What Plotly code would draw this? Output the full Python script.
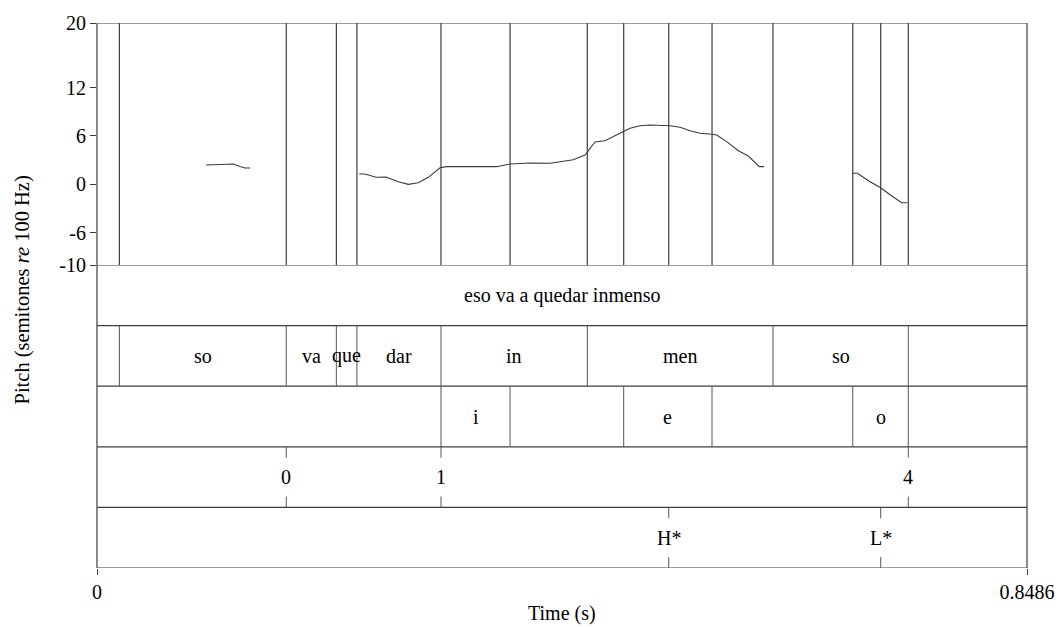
import plotly.graph_objects as go

# ---------------- data ----------------
T_END = 0.8486

# pitch contour (semitones re 100 Hz); None separates voiced stretches
pitch_time = [0.0995, 0.1244, 0.1305, 0.1350, 0.1396, None,
              0.2393, 0.2445, 0.2546, 0.2637, 0.2749, 0.2841, 0.2932, 0.3023, 0.3130,
              0.3191, 0.3647, 0.3769, 0.3951, 0.4134, 0.4346, 0.4453, 0.4544, 0.4635,
              0.4772, 0.4864, 0.4955, 0.5046, 0.5229, 0.5320, 0.5411, 0.5502, 0.5612,
              0.5655, 0.5746, 0.5852, 0.5943, 0.5989, 0.6043, 0.6086, None,
              0.6896, 0.6938, 0.7054, 0.7151, 0.7252, 0.7343, 0.7394]
pitch_st = [2.40, 2.52, 2.20, 2.03, 2.03, None,
            1.28, 1.28, 0.87, 0.91, 0.33, 0.00, 0.20, 0.87, 2.06,
            2.19, 2.19, 2.52, 2.65, 2.61, 3.05, 3.64, 5.25, 5.41,
            6.33, 6.95, 7.27, 7.36, 7.27, 7.07, 6.65, 6.33, 6.20,
            6.12, 5.29, 4.17, 3.51, 2.93, 2.19, 2.19, None,
            1.37, 1.37, 0.33, -0.42, -1.45, -2.28, -2.28]

y_ticks = [-10, -6, 0, 6, 12, 20]
y_tick_text = ["-10", "-6", "0", "6", "12", "20"]
x_ticks = [0, T_END]
x_tick_text = ["0", "0.8486"]

# tier 1: utterance
utt_bounds = []
utt_labels = ["eso va a quedar inmenso"]
# tier 2: syllables
syl_bounds = [0.0204, 0.1727, 0.2184, 0.2372, 0.3139, 0.4474, 0.6168, 0.7403]
syl_labels = ["", "so", "va", "que", "dar", "in", "men", "so", ""]
# tier 3: vowels
vow_bounds = [0.3139, 0.3769, 0.4806, 0.5612, 0.6896, 0.7403]
vow_labels = ["", "i", "", "e", "", "o", ""]
# tier 4: break indices (points)
brk_times = [0.1727, 0.3139, 0.7403]
brk_labels = ["0", "1", "4"]
# tier 5: tones (points)
tone_times = [0.5217, 0.7151]
tone_labels = ["H*", "L*"]

# ---------------- figure ----------------
FONT = "Liberation Serif"
FS = 20
LINE = "#3c3c3c"
TIER_LINE = "#555555"

fig = go.Figure()
fig.add_trace(go.Scatter(x=pitch_time, y=pitch_st, mode="lines",
                         line=dict(color="#3a3a3a", width=1.1),
                         connectgaps=False, hoverinfo="skip", showlegend=False,
                         xaxis="x", yaxis="y"))
# dummy trace for tier axis
fig.add_trace(go.Scatter(x=[0], y=[0], mode="markers", marker=dict(opacity=0),
                         xaxis="x", yaxis="y2", showlegend=False, hoverinfo="skip"))

shapes = []
annotations = []

# vertical lines in pitch panel: union of all boundaries and points
all_marks = sorted(set(syl_bounds + vow_bounds + brk_times + tone_times + utt_bounds))
for t in all_marks:
    shapes.append(dict(type="line", xref="x", yref="y", x0=t, x1=t, y0=-10, y1=20,
                       line=dict(color=LINE, width=1.2)))

# horizontal frame lines
shapes.append(dict(type="line", xref="paper", yref="y", x0=0, x1=1, y0=20, y1=20,
                   line=dict(color=LINE, width=1.2)))
for k in range(6):
    shapes.append(dict(type="line", xref="paper", yref="y2", x0=0, x1=1, y0=k, y1=k,
                       line=dict(color=LINE, width=1.2)))
# left / right frame
for xp in (0, 1):
    shapes.append(dict(type="line", xref="paper", yref="paper", x0=xp, x1=xp, y0=0, y1=1,
                       line=dict(color=LINE, width=1.2)))

def interval_tier(bounds, labels, top):
    edges = [0.0] + list(bounds) + [T_END]
    for t in bounds:
        shapes.append(dict(type="line", xref="x", yref="y2", x0=t, x1=t,
                           y0=top - 1, y1=top, line=dict(color=TIER_LINE, width=1)))
    for i, lab in enumerate(labels):
        if lab:
            annotations.append(dict(x=(edges[i] + edges[i + 1]) / 2, y=top - 0.5,
                                    xref="x", yref="y2", text=lab, showarrow=False,
                                    font=dict(family=FONT, size=FS, color="black")))

def point_tier(times, labels, top):
    for t, lab in zip(times, labels):
        shapes.append(dict(type="line", xref="x", yref="y2", x0=t, x1=t,
                           y0=top - 0.18, y1=top, line=dict(color=TIER_LINE, width=1)))
        shapes.append(dict(type="line", xref="x", yref="y2", x0=t, x1=t,
                           y0=top - 1, y1=top - 0.82, line=dict(color=TIER_LINE, width=1)))
        annotations.append(dict(x=t, y=top - 0.5, xref="x", yref="y2", text=lab,
                                showarrow=False,
                                font=dict(family=FONT, size=FS, color="black")))

interval_tier(utt_bounds, utt_labels, 5)
interval_tier(syl_bounds, syl_labels, 4)
interval_tier(vow_bounds, vow_labels, 3)
point_tier(brk_times, brk_labels, 2)
point_tier(tone_times, tone_labels, 1)

# y title centred on the whole plotting area
annotations.append(dict(x=0, y=0.5, xref="paper", yref="paper", xshift=-75, yshift=5,
                        text="Pitch (semitones <i>re</i> 100 Hz)", textangle=-90,
                        showarrow=False, xanchor="center", yanchor="middle",
                        font=dict(family=FONT, size=20.5, color="black")))
# x title
annotations.append(dict(x=0.5, y=0, xref="paper", yref="paper", yshift=-45,
                        text="Time (s)", showarrow=False,
                        xanchor="center", yanchor="middle",
                        font=dict(family=FONT, size=FS, color="black")))

PITCH_FRAC = 303 / 545

fig.update_layout(
    width=1060, height=627,
    margin=dict(l=97, r=33, t=23, b=59),
    paper_bgcolor="white", plot_bgcolor="white",
    showlegend=False,
    shapes=shapes, annotations=annotations,
    xaxis=dict(range=[0, T_END], anchor="y2", showgrid=False, zeroline=False,
               tickmode="array", tickvals=x_ticks, ticktext=x_tick_text,
               ticks="outside", ticklen=6, tickcolor=LINE, showline=False,
               automargin=False,
               tickfont=dict(family=FONT, size=FS, color="black")),
    yaxis=dict(domain=[PITCH_FRAC, 1], range=[-10, 20], showgrid=False, zeroline=False,
               tickmode="array", tickvals=y_ticks, ticktext=y_tick_text,
               ticks="outside", ticklen=6, automargin=False,
               tickcolor=LINE, showline=False,
               tickfont=dict(family=FONT, size=FS, color="black")),
    yaxis2=dict(domain=[0, PITCH_FRAC], range=[0, 5], visible=False),
)

fig.write_html("out.html")
